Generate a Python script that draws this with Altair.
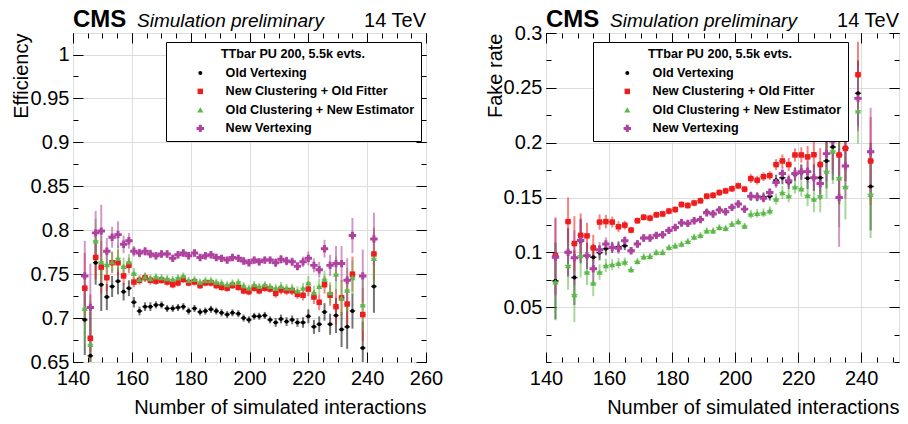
import altair as alt
import pandas as pd

SERIES = ["Old Vertexing", "New Clustering + Old Fitter",
          "Old Clustering + New Estimator", "New Vertexing"]
COLORS = ["#000000", "#ee1c1c", "#5cb84a", "#b0429f"]
SHAPES = ["circle", "square", "triangle-up", "cross"]
SIZES = [16, 30, 38, 55]
LEGEND_TITLE = "TTbar PU 200, 5.5k evts."
HEADER = ["CMS", "Simulation preliminary", "14 TeV"]
X_TITLE = "Number of simulated interactions"

# ---------------- Efficiency panel ----------------
EFF_X = [144.0, 145.9, 147.7, 149.6, 151.5, 153.3, 155.3, 157.2, 159.0, 160.7,
         162.6, 164.5, 166.3, 168.2, 170.1, 172.0, 173.9, 175.7, 177.5, 179.3,
         181.3, 183.2, 185.0, 186.9, 188.7, 190.5, 192.4, 194.2, 196.2, 198.0,
         199.8, 201.6, 203.3, 205.2, 207.0, 208.9, 210.7, 212.6, 214.5, 216.3,
         218.2, 220.0, 221.9, 223.7, 225.5, 227.4, 229.4, 231.3, 233.2, 235.0,
         238.5, 242.3]
EFF_OLD = [0.698, 0.657, 0.763, 0.738, 0.724, 0.736, 0.742, 0.730, 0.734, 0.718,
           0.708, 0.713, 0.713, 0.715, 0.715, 0.711, 0.711, 0.712, 0.713, 0.708,
           0.711, 0.707, 0.708, 0.710, 0.708, 0.706, 0.704, 0.706, 0.705, 0.700,
           0.698, 0.702, 0.702, 0.703, 0.698, 0.695, 0.699, 0.696, 0.698, 0.695,
           0.695, 0.702, 0.690, 0.693, 0.707, 0.693, 0.703, 0.687, 0.690, 0.708,
           0.666, 0.736]
EFF_NEWCLU = [0.734, 0.677, 0.769, 0.758, 0.746, 0.763, 0.763, 0.748, 0.760, 0.741,
              0.743, 0.746, 0.743, 0.742, 0.743, 0.741, 0.738, 0.740, 0.744, 0.740,
              0.741, 0.737, 0.740, 0.740, 0.737, 0.735, 0.734, 0.737, 0.735, 0.731,
              0.730, 0.734, 0.731, 0.734, 0.733, 0.728, 0.732, 0.731, 0.731, 0.727,
              0.726, 0.733, 0.724, 0.718, 0.738, 0.726, 0.713, 0.723, 0.716, 0.750,
              0.704, 0.773]
EFF_NEWEST = [0.711, 0.670, 0.788, 0.764, 0.761, 0.764, 0.768, 0.759, 0.764, 0.751,
              0.744, 0.747, 0.745, 0.747, 0.746, 0.745, 0.744, 0.746, 0.748, 0.743,
              0.744, 0.741, 0.743, 0.743, 0.741, 0.740, 0.738, 0.740, 0.741, 0.737,
              0.734, 0.738, 0.736, 0.738, 0.736, 0.734, 0.736, 0.734, 0.734, 0.731,
              0.734, 0.740, 0.729, 0.736, 0.744, 0.729, 0.750, 0.723, 0.732, 0.746,
              0.715, 0.768]
EFF_NEW = [0.748, 0.712, 0.797, 0.799, 0.776, 0.792, 0.795, 0.784, 0.788, 0.776,
           0.774, 0.776, 0.773, 0.771, 0.773, 0.773, 0.768, 0.772, 0.774, 0.771,
           0.774, 0.769, 0.771, 0.772, 0.769, 0.768, 0.766, 0.769, 0.768, 0.765,
           0.763, 0.766, 0.764, 0.766, 0.766, 0.763, 0.767, 0.765, 0.764, 0.759,
           0.764, 0.768, 0.760, 0.755, 0.779, 0.760, 0.762, 0.762, 0.743, 0.794,
           0.748, 0.790]
EFF_ERR = [0.040, 0.050, 0.025, 0.030, 0.015, 0.012, 0.015, 0.010, 0.009, 0.006,
           0.005, 0.005, 0.005, 0.004, 0.004, 0.004, 0.004, 0.004, 0.004, 0.004,
           0.004, 0.004, 0.004, 0.004, 0.004, 0.004, 0.004, 0.004, 0.004, 0.004,
           0.004, 0.004, 0.004, 0.004, 0.004, 0.005, 0.005, 0.005, 0.005, 0.005,
           0.006, 0.008, 0.008, 0.009, 0.010, 0.012, 0.020, 0.020, 0.025, 0.020,
           0.030, 0.030]
EFF_XERR = 0.93

# ---------------- Fake-rate panel ----------------
FAKE_X = [143, 147, 149, 151, 153, 155, 157, 159, 161, 163,
          165, 167, 169, 171, 173, 175, 177, 179, 181, 183,
          185, 187, 189, 191, 193, 195, 197, 199, 201, 203,
          205, 207, 209, 211, 213, 215, 217, 219, 221, 223,
          225, 227, 229, 231, 233, 235, 239, 243]
FAKE_OLD = [0.074, 0.100, 0.077, 0.110, 0.0967, 0.0955, 0.0997, 0.1033, 0.1045, 0.105,
            0.106, 0.1015, 0.1076, 0.113, 0.113, 0.1155, 0.116, 0.120, 0.1227, 0.1264,
            0.1264, 0.1288, 0.130, 0.137, 0.1355, 0.139, 0.137, 0.141, 0.144, 0.1394,
            0.1512, 0.1506, 0.1506, 0.1512, 0.1658, 0.168, 0.1636, 0.171, 0.1727, 0.1676,
            0.168, 0.168, 0.1833, 0.196, 0.1888, 0.195, 0.245, 0.160]
FAKE_NEWCLU = [0.097, 0.128, 0.108, 0.1155, 0.115, 0.104, 0.1276, 0.128, 0.1276, 0.1233,
               0.1248, 0.1203, 0.1288, 0.132, 0.1312, 0.1342, 0.135, 0.1376, 0.139, 0.1436,
               0.1427, 0.145, 0.147, 0.1512, 0.152, 0.1545, 0.156, 0.158, 0.1606, 0.1576,
               0.1673, 0.1658, 0.169, 0.170, 0.180, 0.1833, 0.180, 0.1888, 0.1888, 0.187,
               0.189, 0.180, 0.209, 0.205, 0.1888, 0.1948, 0.262, 0.1833]
FAKE_NEWEST = [0.073, 0.088, 0.0615, 0.097, 0.082, 0.072, 0.082, 0.088, 0.0888, 0.090,
               0.0912, 0.0842, 0.0918, 0.096, 0.0964, 0.100, 0.100, 0.1045, 0.106, 0.1076,
               0.110, 0.114, 0.1155, 0.1197, 0.1197, 0.1227, 0.122, 0.1258, 0.128, 0.124,
               0.1348, 0.1355, 0.136, 0.1379, 0.1485, 0.1545, 0.1515, 0.1597, 0.158, 0.152,
               0.1485, 0.1515, 0.174, 0.1924, 0.168, 0.160, 0.229, 0.153]
FAKE_NEW = [0.0955, 0.100, 0.095, 0.111, 0.097, 0.085, 0.1024, 0.1076, 0.1045, 0.1036,
            0.1106, 0.1015, 0.1076, 0.113, 0.113, 0.1155, 0.116, 0.120, 0.1227, 0.127,
            0.1264, 0.1288, 0.130, 0.136, 0.135, 0.1385, 0.137, 0.141, 0.144, 0.1394,
            0.1512, 0.1506, 0.1494, 0.1545, 0.1636, 0.1718, 0.1652, 0.1718, 0.1736, 0.1736,
            0.168, 0.1627, 0.190, 0.2015, 0.150, 0.1788, 0.2404, 0.1918]
FAKE_ERR = [0.035, 0.022, 0.025, 0.020, 0.012, 0.012, 0.007, 0.006, 0.005, 0.005,
            0.004, 0.003, 0.003, 0.003, 0.003, 0.003, 0.003, 0.003, 0.003, 0.003,
            0.003, 0.003, 0.003, 0.003, 0.003, 0.003, 0.003, 0.003, 0.003, 0.003,
            0.004, 0.004, 0.004, 0.004, 0.005, 0.006, 0.006, 0.006, 0.007, 0.010,
            0.012, 0.015, 0.025, 0.030, 0.045, 0.030, 0.030, 0.040]
FAKE_XERR = 1.0

FONT = "Liberation Sans"
W, H = 353, 329


def long_df(xs, series_vals, err, xerr):
    rows = []
    for name, col, vals in zip(SERIES, COLORS, series_vals):
        for x, v, e in zip(xs, vals, err):
            rows.append({"x": x, "v": v, "lo": v - e, "hi": v + e,
                         "xlo": x - xerr, "xhi": x + xerr, "series": name, "col": col})
    return pd.DataFrame(rows)


def tick_axis(orient, values, size):
    return alt.Axis(orient=orient, values=values, offset=-size, tickSize=size,
                    ticks=True, labels=False, domain=False, grid=False,
                    title=None, tickColor="black", tickWidth=1)


def panel(df, xdom, ydom, xmaj, xmin, ymaj, ymin, ytitle, ytitle_x, leg_x, leg_y):
    xs = alt.Scale(domain=xdom, nice=False, zero=False)
    ys = alt.Scale(domain=ydom, nice=False, zero=False)
    cscale = alt.Scale(domain=SERIES, range=COLORS)
    base = alt.Chart(df)

    x_axis = alt.Axis(orient="bottom", values=xmaj, grid=True, ticks=False, tickSize=0,
                      domain=False, labelFontSize=20, labelPadding=6, labelFlush=False,
                      format="d", title=X_TITLE, titleX=W, titleY=51, titleAlign="right",
                      titleBaseline="alphabetic", titleFontSize=20, titleFontWeight="normal")
    y_axis = alt.Axis(orient="left", values=ymaj, grid=True, ticks=False, tickSize=0,
                      domain=False, labelFontSize=20, labelPadding=4, labelFlush=False,
                      format="~g", title=ytitle, titleX=ytitle_x, titleY=0,
                      titleAlign="right", titleAngle=270, titleBaseline="alphabetic",
                      titleFontSize=20, titleFontWeight="normal")

    vbars = base.mark_rule(strokeWidth=2, opacity=0.55, clip=True).encode(
        x=alt.X("x:Q", scale=xs, axis=x_axis),
        y=alt.Y("lo:Q", scale=ys, axis=y_axis),
        y2="hi:Q",
        stroke=alt.Stroke("col:N", scale=None),
    )
    hbars = base.mark_rule(strokeWidth=1.5, opacity=0.8, clip=True).encode(
        x=alt.X("xlo:Q", scale=xs, axis=None),
        x2="xhi:Q",
        y=alt.Y("v:Q", scale=ys, axis=None),
        stroke=alt.Stroke("col:N", scale=None),
    )
    leg = alt.Legend(title=LEGEND_TITLE, orient="none", legendX=leg_x, legendY=leg_y,
                     fillColor="white", strokeColor="black", padding=6,
                     titleFont=FONT, titleFontSize=12.6, titleFontWeight="bold",
                     titleColor="black", titleAnchor="middle", titlePadding=6,
                     labelFont=FONT, labelFontSize=12.6, labelFontWeight="bold",
                     labelColor="black", labelLimit=400, labelOffset=19,
                     symbolOffset=22, rowPadding=5.5, cornerRadius=0)
    points = base.mark_point(filled=True, opacity=1, clip=True).encode(
        x=alt.X("x:Q", scale=xs, axis=None),
        y=alt.Y("v:Q", scale=ys, axis=None),
        color=alt.Color("series:N", scale=cscale, legend=leg),
        shape=alt.Shape("series:N", scale=alt.Scale(domain=SERIES, range=SHAPES), legend=leg),
        size=alt.Size("series:N", scale=alt.Scale(type="ordinal", domain=SERIES, range=SIZES),
                      legend=leg),
    )

    ticks = []
    for xo, yo, xv, yv, s in [("bottom", "left", xmaj, ymaj, 10),
                              ("bottom", "left", xmin, ymin, 5),
                              ("top", "right", xmaj, ymaj, 10),
                              ("top", "right", xmin, ymin, 5)]:
        ticks.append(base.mark_point(opacity=0).encode(
            x=alt.X("x:Q", scale=xs, axis=tick_axis(xo, xv, s)),
            y=alt.Y("v:Q", scale=ys, axis=tick_axis(yo, yv, s)),
        ))

    cms = alt.Chart(pd.DataFrame({"t": [HEADER[0]]})).mark_text(
        font=FONT, fontSize=24, fontWeight="bold", align="left",
        baseline="alphabetic", color="black").encode(
        x=alt.value(0), y=alt.value(-6.5), text="t:N")
    sim = alt.Chart(pd.DataFrame({"t": [HEADER[1]]})).mark_text(
        font=FONT, fontSize=19, fontStyle="italic", align="left",
        baseline="alphabetic", color="black").encode(
        x=alt.value(64), y=alt.value(-6.5), text="t:N")
    tev = alt.Chart(pd.DataFrame({"t": [HEADER[2]]})).mark_text(
        font=FONT, fontSize=20, align="right", baseline="alphabetic", color="black").encode(
        x=alt.value(W), y=alt.value(-6.5), text="t:N")

    return alt.layer(vbars, hbars, *ticks, points, cms, sim, tev).resolve_axis(
        x="independent", y="independent").properties(width=W, height=H)


eff_df = long_df(EFF_X, [EFF_OLD, EFF_NEWCLU, EFF_NEWEST, EFF_NEW], EFF_ERR, EFF_XERR)
fake_df = long_df(FAKE_X, [FAKE_OLD, FAKE_NEWCLU, FAKE_NEWEST, FAKE_NEW], FAKE_ERR, FAKE_XERR)

EFF_XMAJ = [140, 160, 180, 200, 220, 240, 260]
EFF_XMIN = list(range(140, 261, 5))
EFF_YMAJ = [0.65, 0.7, 0.75, 0.8, 0.85, 0.9, 0.95, 1.0]
EFF_YMIN = [round(0.65 + 0.025 * i, 3) for i in range(15)]

FAKE_XMAJ = [140, 160, 180, 200, 220, 240]
FAKE_XMIN = list(range(140, 251, 5))
FAKE_YMAJ = [0.05, 0.1, 0.15, 0.2, 0.25, 0.3]
FAKE_YMIN = [round(0.025 * i, 3) for i in range(13)]

left = panel(eff_df, [140, 260], [0.65, 1.0245], EFF_XMAJ, EFF_XMIN, EFF_YMAJ, EFF_YMIN,
             "Efficiency", -46, 93, 9)
right = panel(fake_df, [140, 252], [0, 0.3], FAKE_XMAJ, FAKE_XMIN, FAKE_YMAJ, FAKE_YMIN,
              "Fake rate", -45, 47, 9)

chart = alt.hconcat(left, right, spacing=120, bounds="flush").resolve_scale(
    color="independent", shape="independent", size="independent"
).resolve_legend(
    color="independent", shape="independent", size="independent"
).configure_view(
    stroke="black", strokeWidth=2
).configure_axis(
    labelFont=FONT, titleFont=FONT, labelColor="black", titleColor="black",
    gridColor="#000000", gridDash=[1, 2], gridOpacity=0.85, gridWidth=1
).configure(padding={"left": 2, "top": -1, "right": 0, "bottom": -2}, background="white")

chart.save("out.html", embed_options={"renderer": "svg", "actions": False})
